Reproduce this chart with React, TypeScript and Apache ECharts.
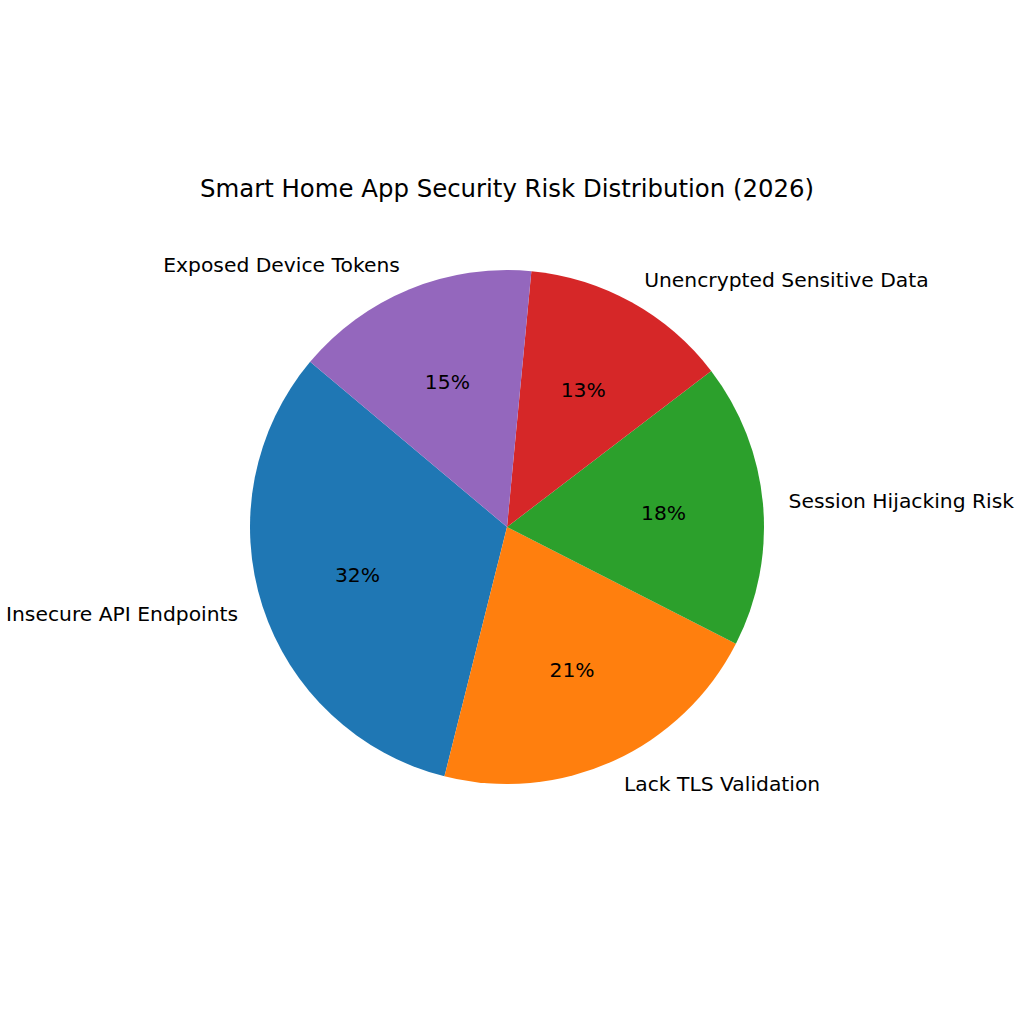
import { useEffect, useRef } from 'react';
import * as echarts from 'echarts';

const categories = [
    'Insecure API Endpoints',
    'Lack TLS Validation',
    'Session Hijacking Risk',
    'Unencrypted Sensitive Data',
    'Exposed Device Tokens',
];
// shares
const shares = [32.2, 21.4, 17.9, 13.1, 15.4];
const colors = ['#1f77b4', '#ff7f0e', '#2ca02c', '#d62728', '#9467bd'];
const titleText = 'Smart Home App Security Risk Distribution (2026)';

const FONT = 'DejaVu Sans, sans-serif';
const CX = 507;
const CY = 527;
const R = 257;

export default function App() {
    const chartRef = useRef<HTMLDivElement>(null);

    useEffect(() => {
        if (!chartRef.current) return;
        const chart = echarts.init(chartRef.current, null, { renderer: 'svg' });

        const data = categories.map((name, i) => ({
            name,
            value: shares[i],
            itemStyle: { color: colors[i] },
        }));
        const total = shares.reduce((a, b) => a + b, 0);

        chart.setOption({
            animation: false,
            backgroundColor: '#ffffff',
            graphic: [
                {
                    type: 'text',
                    x: CX,
                    y: 188,
                    style: {
                        text: titleText,
                        textAlign: 'center',
                        textVerticalAlign: 'middle',
                        font: `24.4px ${FONT}`,
                        fill: '#000',
                    },
                },
            ],
            series: [
                {
                    // wedges + category names outside
                    type: 'pie',
                    center: [CX, CY],
                    radius: [0, R],
                    startAngle: 140,
                    clockwise: false,
                    avoidLabelOverlap: false,
                    silent: true,
                    data,
                    label: {
                        show: true,
                        position: 'outside',
                        formatter: '{b}',
                        fontFamily: FONT,
                        fontSize: 20.3,
                        color: '#000',
                        distanceToLabelLine: 0,
                    },
                    labelLine: { show: false, length: R * 0.1, length2: 0 },
                },
                {
                    // transparent copy, only for the percent labels at 0.6 r
                    type: 'pie',
                    center: [CX, CY],
                    radius: [0, R * 1.2],
                    startAngle: 140,
                    clockwise: false,
                    avoidLabelOverlap: false,
                    silent: true,
                    data: data.map(d => ({ ...d, itemStyle: { color: 'transparent' } })),
                    itemStyle: { borderWidth: 0 },
                    label: {
                        show: true,
                        position: 'inside',
                        formatter: (p: any) => Math.round((p.value / total) * 100) + '%',
                        fontFamily: FONT,
                        fontSize: 20.3,
                        color: '#000',
                    },
                    labelLine: { show: false },
                },
            ],
        });

        return () => {
            chart.dispose();
        };
    }, []);

    return (
        <div
            ref={chartRef}
            style={{ position: 'fixed', left: 0, top: 0, width: '1024px', height: '1024px', background: '#fff' }}
        />
    );
}
